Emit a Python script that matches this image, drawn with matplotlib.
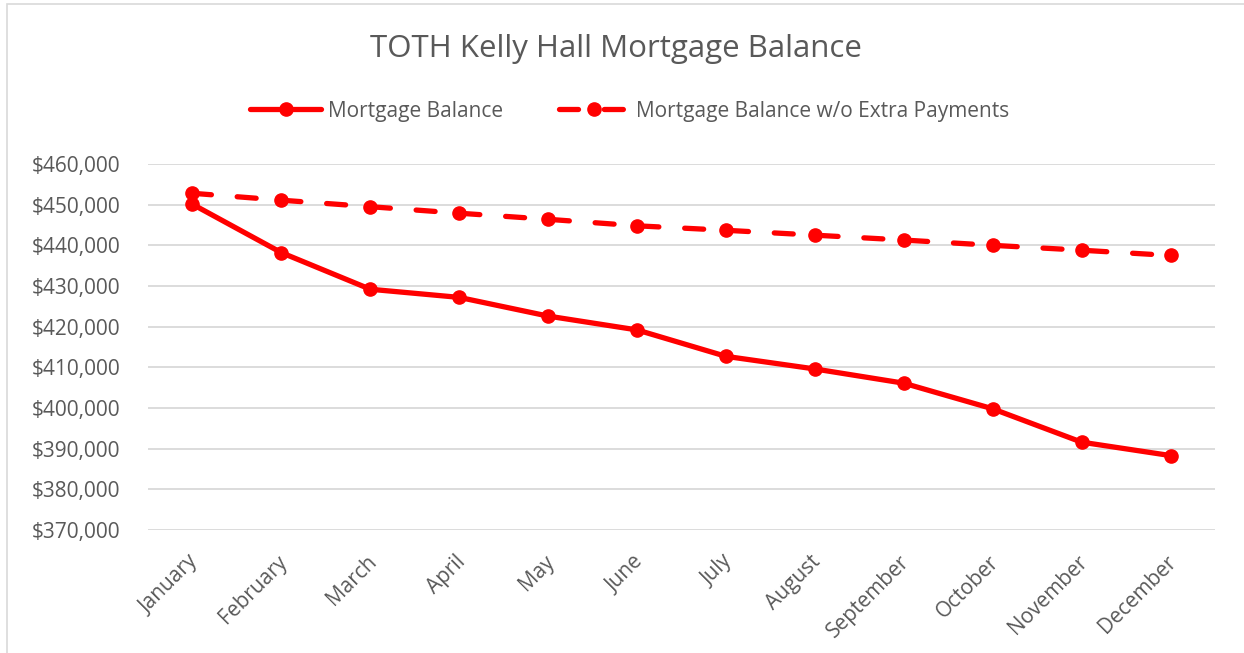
import matplotlib
matplotlib.use("Agg")
import matplotlib.pyplot as plt
import matplotlib.transforms as mtransforms
from matplotlib.ticker import FuncFormatter, MultipleLocator
from matplotlib.patches import Rectangle

months = ["January", "February", "March", "April", "May", "June", "July",
          "August", "September", "October", "November", "December"]
balance = [450100, 438200, 429200, 427200, 422600, 419200, 412700,
           409600, 406100, 399800, 391600, 388300]
balance_no_extra = [452800, 451100, 449500, 447900, 446400, 444800, 443700,
                    442500, 441300, 440000, 438800, 437500]

title = "TOTH Kelly Hall Mortgage Balance"
series_names = ["Mortgage Balance", "Mortgage Balance w/o Extra Payments"]

plt.rcParams['font.family'] = ['Open Sans', 'DejaVu Sans']
TXT = '#595959'
RED = '#FF0000'

fig = plt.figure(figsize=(12.44, 6.53), dpi=100)
W, H = 1244, 653
ax = fig.add_axes([148 / W, 1 - 530 / H, (1215 - 148) / W, (530 - 164) / H])

# chart border
fig.patches.append(Rectangle((7 / W, -0.1), 1.2, 1 - 4 / H + 0.1, transform=fig.transFigure,
                             fill=False, edgecolor='#d9d9d9', linewidth=1.2))

x = list(range(len(months)))
lw = 3.8
ax.plot(x, balance, color=RED, linewidth=lw, marker='o', markersize=9.5,
        solid_capstyle='round', solid_joinstyle='round', label=series_names[0], zorder=3)
ln, = ax.plot(x, balance_no_extra, color=RED, linewidth=lw, marker='o', markersize=9.5,
              dash_capstyle='round', label=series_names[1], zorder=3)
ln.set_dashes((3.6, 4.9))

ax.set_xlim(-0.5, 11.5)
ax.set_ylim(370000, 460000)
ax.yaxis.set_major_locator(MultipleLocator(10000))
ax.yaxis.set_major_formatter(FuncFormatter(lambda v, p: f"${v:,.0f}"))
ax.grid(axis='y', color='#d9d9d9', linewidth=1.3)
ax.set_axisbelow(True)
for s in ax.spines.values():
    s.set_visible(False)
ax.tick_params(axis='both', length=0, colors=TXT, labelsize=15)
ax.tick_params(axis='y', pad=20)
ax.set_xticks(x)
ax.set_xticklabels(months, rotation=45, ha='right', va='center', rotation_mode='anchor')
ax.tick_params(axis='x', pad=20)
offset = mtransforms.ScaledTranslation(3 / 100, -1 / 100, fig.dpi_scale_trans)
for lab in ax.get_xticklabels():
    lab.set_transform(lab.get_transform() + offset)

fig.text(616 / W, 1 - 57 / H, title, ha='center', va='baseline', color=TXT, fontsize=22.5)

leg = fig.legend(loc='center', bbox_to_anchor=(630 / W, 1 - 111 / H), ncol=2, frameon=False,
                 fontsize=15, handlelength=3.4, columnspacing=2.65, handletextpad=0.34,
                 labelcolor=TXT)

fig.savefig("out.png", dpi=100)
